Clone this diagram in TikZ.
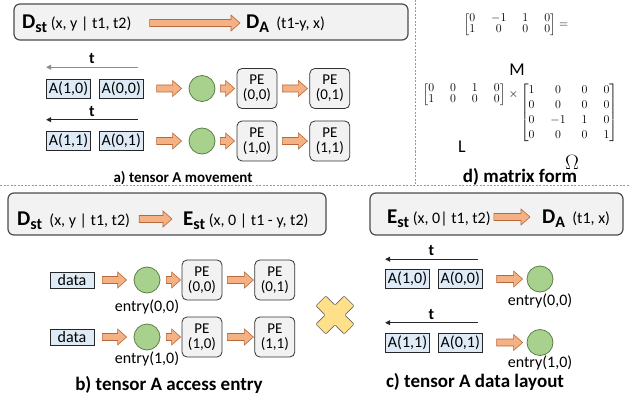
\documentclass[tikz,border=0pt]{standalone}
\usepackage{amsmath}
\usepackage{fontspec}
\setmainfont{Carlito}
\usetikzlibrary{arrows.meta, calc, positioning}

\definecolor{panelgrey}{HTML}{F2F2F2}
\definecolor{cellblue}{HTML}{DEEBF7}
\definecolor{entrygreen}{HTML}{A9D18E}
\definecolor{entryline}{HTML}{5B7F45}
\definecolor{arroworange}{HTML}{F4B183}
\definecolor{arrowline}{HTML}{B8683A}
\definecolor{crossyellow}{HTML}{FFE08A}

\newcommand{\fsize}[1]{\fontsize{#1}{#1}\selectfont}
\newcommand{\tensor}[2]{{\bfseries\fsize{21}#1\raisebox{-4pt}{\fsize{16}#2}}}
\newcommand{\matrixsetup}[1]{\setlength\arraycolsep{8pt}\renewcommand\arraystretch{#1}}

\tikzset{
  panel/.style = {draw=black!70, line width=1.2pt, rounded corners=6pt, fill=panelgrey},
  formula/.style = {inner sep=0pt, font=\fsize{16}},
  cell/.style = {draw=black!85, fill=cellblue, line width=0.6pt, minimum height=19pt,
                 inner xsep=2.5pt, inner ysep=0pt, font=\fsize{16}},
  datacell/.style = {cell, minimum width=44pt, minimum height=16pt},
  entry/.style = {circle, draw=entryline, fill=entrygreen, line width=0.8pt,
                  minimum size=26pt, inner sep=0pt},
  entry name/.style = {inner sep=0pt, font=\fsize{16}},
  pe/.style = {draw=black!80, fill=panelgrey, line width=0.8pt, rounded corners=5pt,
               minimum width=40pt, minimum height=40pt, inner sep=0pt, align=center,
               font=\fsize{15}},
  blockarrow/.style = {draw=arrowline, fill=arroworange, line width=0.6pt,
    to path={let \p1=(\tikztostart), \p2=(\tikztotarget) in
      (\x1,\y1+3.5pt) -- (\x2-9pt,\y1+3.5pt) -- (\x2-9pt,\y1+8pt) -- (\x2,\y1)
      -- (\x2-9pt,\y1-8pt) -- (\x2-9pt,\y1-3.5pt) -- (\x1,\y1-3.5pt) -- cycle}},
  timeline/.style = {line width=1pt, arrows={-Triangle[length=5pt, width=5pt]}},
  tlabel/.style = {inner sep=0pt, font=\bfseries\fsize{16}},
  divider/.style = {draw=black!40, line width=1pt, dash pattern=on 2pt off 1.5pt},
  caption/.style = {inner sep=0pt, font=\bfseries\fsize{19}},
  matrixbox/.style = {inner sep=0pt, font=\fsize{12}},
  matrixname/.style = {inner sep=0pt, font=\fsize{18}},
  crossmark/.style = {draw=black!60, fill=crossyellow, line width=0.6pt, rounded corners=1pt},
}

\begin{document}
\begin{tikzpicture}[x=1pt, y=-1pt]
  \useasboundingbox (0,0) rectangle (629,401);

  %% Section dividers
  \draw [divider] (415,0) -- (415,185);
  \draw [divider] (0,185) -- (629,185);

  %% a) the mapping and the moving tensor A
  \node [panel, minimum width=394pt, minimum height=36pt] (a_box) at (211,22) {};
  \node [formula, anchor=base west] (a_from) at (22,29) {\tensor{D}{st} (x, y | t1, t2)};
  \node [formula, anchor=base west] (a_to) at (246,29) {\tensor{D}{A}\ \ (t1-y, x)};
  \draw [blockarrow] ([xshift=18pt, yshift=6pt]a_from.base east)
    to ([xshift=-6pt, yshift=6pt]a_to.base west);

  \foreach \r/\y/\tcol in {0/88.5/black!45, 1/141/black!85}{
    \node [cell] (a_c1\r) at (68.5,\y) {A(1,\r)};
    \node [cell, right=8pt of a_c1\r] (a_c0\r) {A(0,\r)};
    \node [entry] (a_in\r) at (202,\y) {};
    \node [pe] (a_pe\r0) at (257,\y) {PE\\(\r,0)};
    \node [pe, right=32pt of a_pe\r0] (a_pe\r1) {PE\\(\r,1)};

    \draw [timeline, draw=\tcol] ([xshift=-6pt, yshift=11.5pt]a_c0\r.north east)
      -- ([yshift=11.5pt]a_c1\r.north west)
      node [midway, above=3pt, tlabel] {t};
    \draw [blockarrow] ([xshift=13pt]a_c0\r.east) to ([xshift=-7pt]a_in\r.west);
    \draw [blockarrow] ([xshift=5pt]a_in\r.east) to ([xshift=-2pt]a_pe\r0.west);
    \draw [blockarrow] ([xshift=5pt]a_pe\r0.east) to ([xshift=-2pt]a_pe\r1.west);
  }
  \node [inner sep=0pt, font=\bfseries\fsize{15}] (a_caption) at (183,178) {a) tensor A movement};

  %% d) the same transformation as matrices
  \node [matrixbox] (d_m) at (516,25)
    {$\matrixsetup{0.85}\begin{bmatrix}0&-1&1&0\\1&0&0&0\end{bmatrix}=$};
  \node [matrixname] (d_mname) at (517,70) {M};
  \node [matrixbox] (d_l) at (464,95)
    {$\matrixsetup{0.85}\begin{bmatrix}0&0&1&0\\1&0&0&0\end{bmatrix}$};
  \node [matrixbox, right=3pt of d_l] (d_times) {$\times$};
  \node [matrixbox] (d_omega) at (569,113)
    {$\matrixsetup{1.25}\begin{bmatrix}1&0&0&0\\0&0&0&0\\0&-1&1&0\\0&0&0&1\end{bmatrix}$};
  \node [matrixname] (d_lname) at (462,147) {L};
  \node [matrixname, font=\fsize{20}] (d_omeganame) at (572,162) {$\Omega$};
  \node [caption] (d_caption) at (520,177) {d) matrix form};

  %% b) the access entries
  \node [panel, minimum width=318pt, minimum height=42pt] (b_box) at (167,214) {};
  \node [formula, anchor=base west] (b_from) at (17,225) {\tensor{D}{st}\ \ (x, y | t1, t2)};
  \node [formula, anchor=base west] (b_to) at (183,225) {\tensor{E}{st} (x, 0 | t1 - y, t2)};
  \draw [blockarrow] ([xshift=9pt, yshift=6pt]b_from.base east)
    to ([xshift=-11pt, yshift=6pt]b_to.base west);

  \foreach \r/\y/\gap in {0/280/6pt, 1/337/1pt}{
    \node [datacell] (b_data\r) at (72,\y) {data};
    \node [entry] (b_entry\r) at (147,\y) {};
    \node [entry name, below=\gap of b_entry\r] (b_name\r) {entry(\r,0)};
    \node [pe] (b_pe\r0) at (202,\y) {PE\\(\r,0)};
    \node [pe, right=32pt of b_pe\r0] (b_pe\r1) {PE\\(\r,1)};

    \draw [blockarrow] ([xshift=8pt]b_data\r.east) to ([xshift=-7pt]b_entry\r.west);
    \draw [blockarrow] ([xshift=6pt]b_entry\r.east) to ([xshift=-1pt]b_pe\r0.west);
    \draw [blockarrow] ([xshift=5pt]b_pe\r0.east) to ([xshift=-1pt]b_pe\r1.west);
  }
  \node [caption] (b_caption) at (169,385) {b) tensor A access entry};

  %% The cross between b) and c)
  \draw [crossmark, shift={(335,315)}, rotate=45]
    (-7,-20) -- (7,-20) -- (7,-7) -- (20,-7) -- (20,7) -- (7,7) -- (7,20)
    -- (-7,20) -- (-7,7) -- (-20,7) -- (-20,-7) -- (-7,-7) -- cycle;

  %% c) the data layout of tensor A
  \node [panel, minimum width=253pt, minimum height=42pt] (c_box) at (496.5,214) {};
  \node [formula, anchor=base west] (c_from) at (387,223) {\tensor{E}{st} (x, 0| t1, t2)};
  \node [formula, anchor=base west] (c_to) at (542,223) {\tensor{D}{A}\ \ (t1, x)};
  \draw [blockarrow] ([xshift=3pt, yshift=6pt]c_from.base east)
    to ([xshift=-12pt, yshift=6pt]c_to.base west);

  \foreach \r/\y/\gap in {0/279/1pt, 1/342.5/0pt}{
    \node [cell] (c_c1\r) at (407.5,\y) {A(1,\r)};
    \node [cell, right=8pt of c_c1\r] (c_c0\r) {A(0,\r)};
    \node [entry] (c_entry\r) at (540,\y) {};
    \node [entry name, below=\gap of c_entry\r] (c_name\r) {entry(\r,0)};

    \draw [timeline, draw=black!85] ([xshift=-5pt, yshift=10pt]c_c0\r.north east)
      -- ([yshift=10pt]c_c1\r.north west)
      node [midway, above=3pt, tlabel] {t};
    \draw [blockarrow] ([xshift=14pt]c_c0\r.east) to ([xshift=-4pt]c_entry\r.west);
  }
  \node [caption] (c_caption) at (475,382) {c) tensor A data layout};
\end{tikzpicture}
\end{document}
